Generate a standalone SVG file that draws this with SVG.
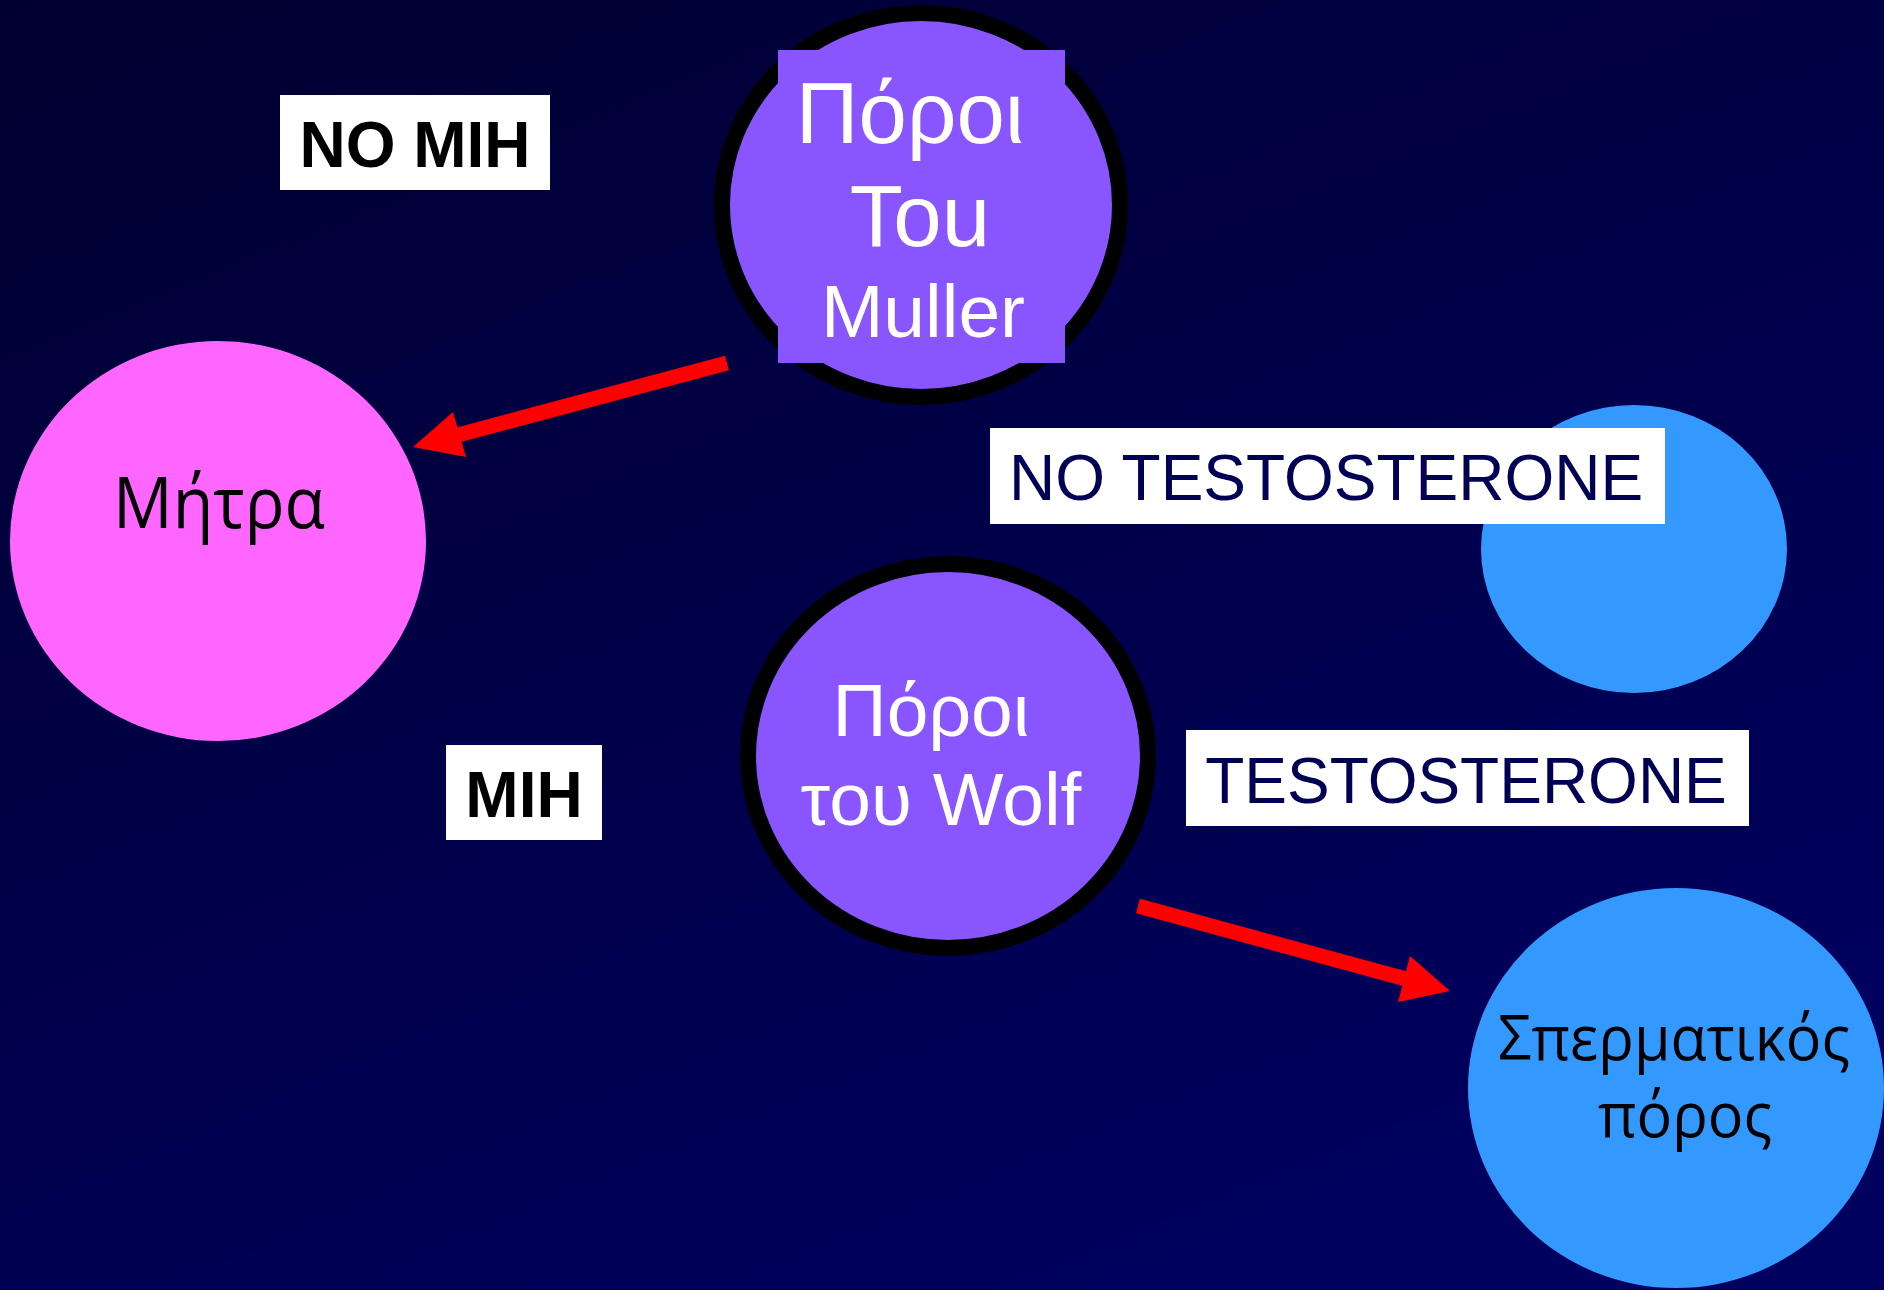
<svg xmlns="http://www.w3.org/2000/svg" width="1884" height="1290" viewBox="0 0 1884 1290">
<defs>
<linearGradient id="bg" x1="0" y1="0" x2="0.6" y2="1">
<stop offset="0" stop-color="#000030"/>
<stop offset="1" stop-color="#00005e"/>
</linearGradient>
<style>
.sans{font-family:"Liberation Sans",Arial,sans-serif}
.open{font-family:"Open Sans","Noto Sans",sans-serif}
.purple{fill:#8855ff}
.ring{fill:#8855ff;stroke:#000000;stroke-width:16}
.arrow{fill:#ff0000}
</style>
</defs>
<rect x="0" y="0" width="1884" height="1290" fill="url(#bg)"/>

<g id="node-blue-top">
<ellipse cx="1634" cy="549" rx="153" ry="144" fill="#3399ff"/>
</g>

<g id="node-muller">
<ellipse class="ring" cx="921" cy="205" rx="199" ry="192"/>
<rect class="purple" x="778" y="50" width="287" height="313"/>
<text class="sans" fill="#ffffff" text-anchor="middle" font-size="87" x="910" y="143">Πόροι</text>
<text class="sans" fill="#ffffff" text-anchor="middle" font-size="87" x="920" y="246">Tou</text>
<text class="sans" fill="#ffffff" text-anchor="middle" font-size="75" x="923" y="337">Muller</text>
</g>

<g id="node-mitra">
<ellipse cx="218" cy="541" rx="208" ry="200" fill="#ff66ff"/>
<text class="open" fill="#000000" text-anchor="middle" font-size="72" x="219" y="528" textLength="212" lengthAdjust="spacingAndGlyphs">Μήτρα</text>
</g>

<g id="node-wolf">
<ellipse class="ring" cx="948" cy="756" rx="200" ry="192"/>
<text class="sans" fill="#ffffff" text-anchor="middle" font-size="75" x="931" y="736">Πόροι</text>
<text class="sans" fill="#ffffff" text-anchor="middle" font-size="75" x="941" y="825">του Wolf</text>
</g>

<g id="node-sperm">
<ellipse cx="1676" cy="1088" rx="208" ry="200" fill="#3399ff"/>
<text class="open" fill="#000000" text-anchor="middle" font-size="63" x="1674" y="1060" textLength="352" lengthAdjust="spacingAndGlyphs">Σπερματικός</text>
<text class="open" fill="#000000" text-anchor="middle" font-size="63" x="1685" y="1137" textLength="174" lengthAdjust="spacingAndGlyphs">πόρος</text>
</g>

<g id="label-no-mih">
<rect x="280" y="95" width="270" height="95" fill="#ffffff"/>
<text class="sans" font-weight="bold" fill="#000000" text-anchor="middle" font-size="64" x="415" y="167">NO MIH</text>
</g>

<g id="label-mih">
<rect x="446" y="745" width="156" height="95" fill="#ffffff"/>
<text class="sans" font-weight="bold" fill="#000000" text-anchor="middle" font-size="64" x="524" y="817">MIH</text>
</g>

<g id="label-no-testosterone">
<rect x="990" y="428" width="675" height="96" fill="#ffffff"/>
<text class="sans" fill="#000055" text-anchor="middle" font-size="64" x="1326" y="500">NO TESTOSTERONE</text>
</g>

<g id="label-testosterone">
<rect x="1186" y="730" width="563" height="96" fill="#ffffff"/>
<text class="sans" fill="#000055" text-anchor="middle" font-size="64" x="1466" y="803">TESTOSTERONE</text>
</g>

<g id="connectors">
<line x1="727" y1="363" x2="458" y2="435" stroke="#ff0000" stroke-width="15"/>
<polygon class="arrow" points="413,447 453,412 466,457"/>
<line x1="1138" y1="906" x2="1406" y2="979" stroke="#ff0000" stroke-width="15"/>
<polygon class="arrow" points="1450,991 1410,956 1398,1002"/>
</g>
</svg>
